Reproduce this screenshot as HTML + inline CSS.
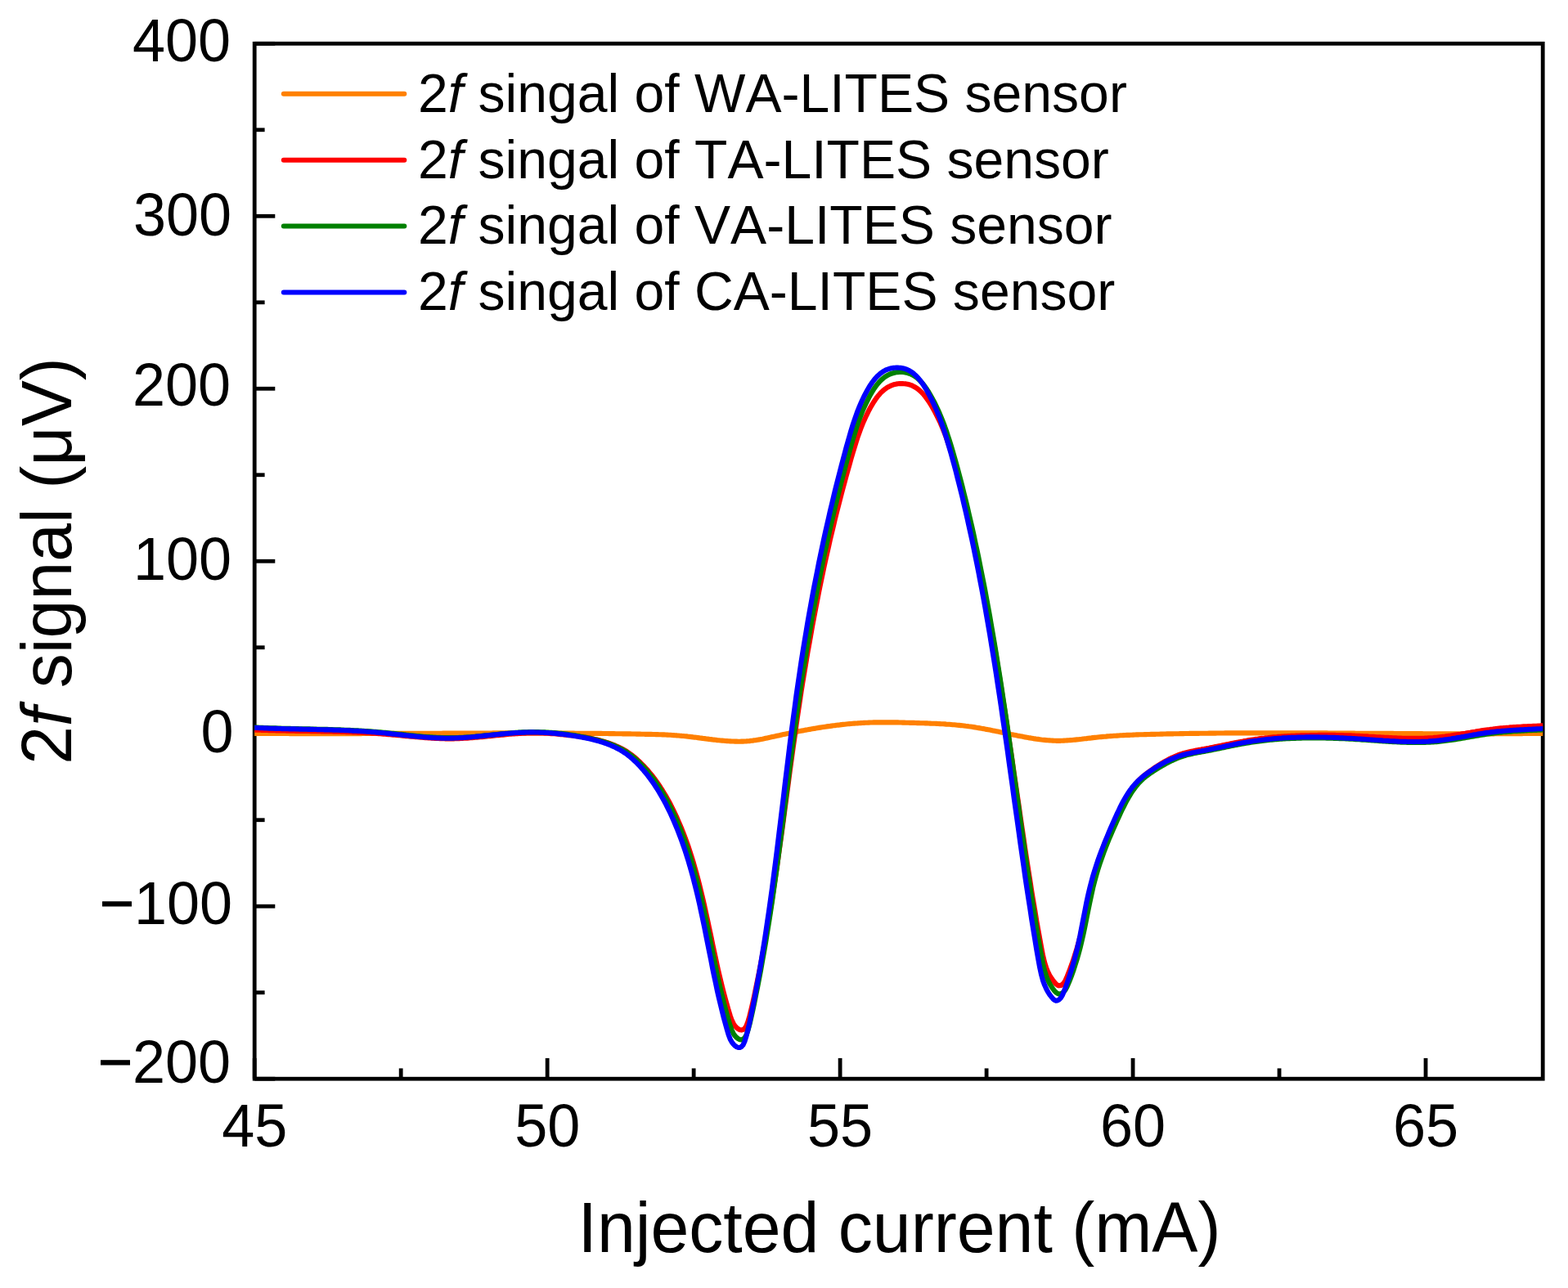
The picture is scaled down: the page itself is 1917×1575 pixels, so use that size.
<!DOCTYPE html>
<html lang="en"><head><meta charset="utf-8"><title>2f signal</title>
<style>html,body{margin:0;padding:0;background:#fff;overflow:hidden}svg{display:block}text{font-kerning:none;font-variant-ligatures:none}</style></head>
<body>
<svg width="1917" height="1575" viewBox="0 0 1917 1575">
<rect width="1917" height="1575" fill="#fff"/>
<defs><clipPath id="c"><rect x="311.2" y="53.3" width="1575.0" height="1265.9"/></clipPath></defs>
<g stroke="#000" stroke-width="4.8" fill="none">
<line x1="311.2" y1="1319.20" x2="336.30" y2="1319.20"/>
<line x1="311.2" y1="1213.71" x2="323.60" y2="1213.71"/>
<line x1="311.2" y1="1108.22" x2="336.30" y2="1108.22"/>
<line x1="311.2" y1="1002.73" x2="323.60" y2="1002.73"/>
<line x1="311.2" y1="897.23" x2="336.30" y2="897.23"/>
<line x1="311.2" y1="791.74" x2="323.60" y2="791.74"/>
<line x1="311.2" y1="686.25" x2="336.30" y2="686.25"/>
<line x1="311.2" y1="580.76" x2="323.60" y2="580.76"/>
<line x1="311.2" y1="475.27" x2="336.30" y2="475.27"/>
<line x1="311.2" y1="369.78" x2="323.60" y2="369.78"/>
<line x1="311.2" y1="264.28" x2="336.30" y2="264.28"/>
<line x1="311.2" y1="158.79" x2="323.60" y2="158.79"/>
<line x1="311.2" y1="53.30" x2="336.30" y2="53.30"/>
<line x1="311.20" y1="1319.2" x2="311.20" y2="1293.90"/>
<line x1="490.18" y1="1319.2" x2="490.18" y2="1306.40"/>
<line x1="669.15" y1="1319.2" x2="669.15" y2="1293.90"/>
<line x1="848.13" y1="1319.2" x2="848.13" y2="1306.40"/>
<line x1="1027.11" y1="1319.2" x2="1027.11" y2="1293.90"/>
<line x1="1206.09" y1="1319.2" x2="1206.09" y2="1306.40"/>
<line x1="1385.06" y1="1319.2" x2="1385.06" y2="1293.90"/>
<line x1="1564.04" y1="1319.2" x2="1564.04" y2="1306.40"/>
<line x1="1743.02" y1="1319.2" x2="1743.02" y2="1293.90"/>
<rect x="311.2" y="53.3" width="1575.00" height="1265.90" stroke-linejoin="miter"/>
</g>
<g clip-path="url(#c)" fill="none" stroke-linejoin="round" stroke-linecap="round">
<path d="M311.2,896.8 L313.2,896.8 L315.1,896.8 L317.1,896.8 L319.1,896.9 L321.1,896.9 L323.0,896.9 L325.0,896.9 L327.0,896.9 L328.9,896.9 L330.9,896.9 L332.9,897.0 L334.9,897.0 L336.8,897.0 L338.8,897.0 L340.8,897.0 L342.7,897.0 L344.7,897.0 L346.7,897.0 L348.7,897.0 L350.6,897.0 L352.6,897.0 L354.6,897.1 L356.5,897.1 L358.5,897.1 L360.5,897.1 L362.5,897.1 L364.4,897.1 L366.4,897.1 L368.4,897.1 L370.3,897.1 L372.3,897.1 L374.3,897.1 L376.3,897.1 L378.2,897.1 L380.2,897.1 L382.2,897.1 L384.1,897.1 L386.1,897.1 L388.1,897.1 L390.0,897.1 L392.0,897.1 L394.0,897.1 L396.0,897.1 L397.9,897.1 L399.9,897.1 L401.9,897.1 L403.8,897.1 L405.8,897.1 L407.8,897.1 L409.8,897.1 L411.7,897.1 L413.7,897.1 L415.7,897.1 L417.6,897.1 L419.6,897.1 L421.6,897.1 L423.6,897.1 L425.5,897.1 L427.5,897.1 L429.5,897.1 L431.4,897.1 L433.4,897.1 L435.4,897.1 L437.4,897.1 L439.3,897.1 L441.3,897.1 L443.3,897.0 L445.2,897.0 L447.2,897.0 L449.2,897.0 L451.2,897.0 L453.1,897.0 L455.1,897.0 L457.1,897.0 L459.0,897.0 L461.0,897.0 L463.0,897.0 L465.0,897.0 L466.9,897.0 L468.9,897.0 L470.9,897.0 L472.8,896.9 L474.8,896.9 L476.8,896.9 L478.8,896.9 L480.7,896.9 L482.7,896.9 L484.7,896.9 L486.6,896.9 L488.6,896.9 L490.6,896.9 L492.6,896.9 L494.5,896.9 L496.5,896.8 L498.5,896.8 L500.4,896.8 L502.4,896.8 L504.4,896.8 L506.4,896.8 L508.3,896.8 L510.3,896.8 L512.3,896.8 L514.2,896.8 L516.2,896.8 L518.2,896.7 L520.1,896.7 L522.1,896.7 L524.1,896.7 L526.1,896.7 L528.0,896.7 L530.0,896.7 L532.0,896.7 L533.9,896.7 L535.9,896.7 L537.9,896.7 L539.9,896.7 L541.8,896.6 L543.8,896.6 L545.8,896.6 L547.7,896.6 L549.7,896.6 L551.7,896.6 L553.7,896.6 L555.6,896.6 L557.6,896.6 L559.6,896.6 L561.5,896.6 L563.5,896.6 L565.5,896.6 L567.5,896.5 L569.4,896.5 L571.4,896.5 L573.4,896.5 L575.3,896.5 L577.3,896.5 L579.3,896.5 L581.3,896.5 L583.2,896.5 L585.2,896.5 L587.2,896.5 L589.1,896.5 L591.1,896.5 L593.1,896.5 L595.1,896.5 L597.0,896.5 L599.0,896.5 L601.0,896.5 L602.9,896.4 L604.9,896.4 L606.9,896.4 L608.9,896.4 L610.8,896.4 L612.8,896.4 L614.8,896.4 L616.7,896.4 L618.7,896.4 L620.7,896.4 L622.7,896.4 L624.6,896.4 L626.6,896.4 L628.6,896.4 L630.5,896.4 L632.5,896.4 L634.5,896.4 L636.5,896.4 L638.4,896.4 L640.4,896.4 L642.4,896.4 L644.3,896.4 L646.3,896.4 L648.3,896.4 L650.2,896.4 L652.2,896.4 L654.2,896.4 L656.2,896.4 L658.1,896.4 L660.1,896.5 L662.1,896.5 L664.0,896.5 L666.0,896.5 L668.0,896.5 L670.0,896.5 L671.9,896.5 L673.9,896.5 L675.9,896.5 L677.8,896.5 L679.8,896.5 L681.8,896.5 L683.8,896.5 L685.7,896.5 L687.7,896.6 L689.7,896.6 L691.6,896.6 L693.6,896.6 L695.6,896.6 L697.6,896.6 L699.5,896.6 L701.5,896.6 L703.5,896.7 L705.4,896.7 L707.4,896.7 L709.4,896.7 L711.4,896.7 L713.3,896.7 L715.3,896.7 L717.3,896.8 L719.2,896.8 L721.2,896.8 L723.2,896.8 L725.2,896.8 L727.1,896.9 L729.1,896.9 L731.1,896.9 L733.0,896.9 L735.0,896.9 L737.0,897.0 L739.0,897.0 L740.9,897.0 L742.9,897.0 L744.9,897.1 L746.8,897.1 L748.8,897.1 L750.8,897.1 L752.8,897.2 L754.7,897.2 L756.7,897.2 L758.7,897.2 L760.6,897.3 L762.6,897.3 L764.6,897.3 L766.6,897.4 L768.5,897.4 L770.5,897.4 L772.5,897.5 L774.4,897.5 L776.4,897.5 L778.4,897.6 L780.3,897.6 L782.3,897.6 L784.3,897.7 L786.3,897.7 L788.2,897.8 L790.2,897.8 L792.2,897.8 L794.1,897.9 L796.1,897.9 L798.1,898.0 L800.1,898.0 L802.0,898.1 L804.0,898.1 L806.0,898.2 L807.9,898.3 L809.9,898.4 L811.9,898.4 L813.9,898.5 L815.8,898.6 L817.8,898.7 L819.8,898.8 L821.7,899.0 L823.7,899.1 L825.7,899.2 L827.7,899.4 L829.6,899.5 L831.6,899.7 L833.6,899.9 L835.5,900.0 L837.5,900.2 L839.5,900.4 L841.5,900.7 L843.4,900.9 L845.4,901.1 L847.4,901.4 L849.3,901.6 L851.3,901.8 L853.3,902.1 L855.3,902.4 L857.2,902.6 L859.2,902.9 L861.2,903.1 L863.1,903.4 L865.1,903.6 L867.1,903.9 L869.1,904.1 L871.0,904.4 L873.0,904.6 L875.0,904.8 L876.9,905.1 L878.9,905.3 L880.9,905.5 L882.9,905.6 L884.8,905.8 L886.8,906.0 L888.8,906.1 L890.7,906.3 L892.7,906.4 L894.7,906.5 L896.7,906.5 L898.6,906.6 L900.6,906.6 L902.6,906.7 L904.5,906.7 L906.5,906.6 L908.5,906.6 L910.4,906.5 L912.4,906.4 L914.4,906.2 L916.4,906.1 L918.3,905.8 L920.3,905.6 L922.3,905.3 L924.2,905.1 L926.2,904.7 L928.2,904.4 L930.2,904.0 L932.1,903.7 L934.1,903.3 L936.1,902.8 L938.0,902.4 L940.0,902.0 L942.0,901.6 L944.0,901.1 L945.9,900.7 L947.9,900.3 L949.9,899.8 L951.8,899.4 L953.8,899.0 L955.8,898.5 L957.8,898.1 L959.7,897.7 L961.7,897.3 L963.7,896.9 L965.6,896.5 L967.6,896.1 L969.6,895.7 L971.6,895.3 L973.5,894.9 L975.5,894.5 L977.5,894.1 L979.4,893.7 L981.4,893.4 L983.4,893.0 L985.4,892.6 L987.3,892.3 L989.3,891.9 L991.3,891.6 L993.2,891.2 L995.2,890.9 L997.2,890.6 L999.2,890.2 L1001.1,889.9 L1003.1,889.6 L1005.1,889.3 L1007.0,889.0 L1009.0,888.7 L1011.0,888.4 L1013.0,888.1 L1014.9,887.9 L1016.9,887.6 L1018.9,887.3 L1020.8,887.1 L1022.8,886.8 L1024.8,886.6 L1026.8,886.4 L1028.7,886.1 L1030.7,885.9 L1032.7,885.7 L1034.6,885.5 L1036.6,885.3 L1038.6,885.1 L1040.5,885.0 L1042.5,884.8 L1044.5,884.6 L1046.5,884.5 L1048.4,884.4 L1050.4,884.2 L1052.4,884.1 L1054.3,884.0 L1056.3,883.9 L1058.3,883.8 L1060.3,883.7 L1062.2,883.6 L1064.2,883.5 L1066.2,883.5 L1068.1,883.4 L1070.1,883.4 L1072.1,883.3 L1074.1,883.3 L1076.0,883.3 L1078.0,883.3 L1080.0,883.3 L1081.9,883.3 L1083.9,883.3 L1085.9,883.3 L1087.9,883.3 L1089.8,883.3 L1091.8,883.3 L1093.8,883.4 L1095.7,883.4 L1097.7,883.4 L1099.7,883.5 L1101.7,883.5 L1103.6,883.6 L1105.6,883.6 L1107.6,883.7 L1109.5,883.7 L1111.5,883.8 L1113.5,883.8 L1115.5,883.9 L1117.4,883.9 L1119.4,884.0 L1121.4,884.1 L1123.3,884.1 L1125.3,884.2 L1127.3,884.2 L1129.3,884.3 L1131.2,884.4 L1133.2,884.4 L1135.2,884.5 L1137.1,884.6 L1139.1,884.7 L1141.1,884.7 L1143.1,884.8 L1145.0,884.9 L1147.0,885.0 L1149.0,885.1 L1150.9,885.2 L1152.9,885.3 L1154.9,885.4 L1156.9,885.6 L1158.8,885.7 L1160.8,885.8 L1162.8,886.0 L1164.7,886.2 L1166.7,886.3 L1168.7,886.5 L1170.6,886.7 L1172.6,886.9 L1174.6,887.1 L1176.6,887.3 L1178.5,887.5 L1180.5,887.8 L1182.5,888.0 L1184.4,888.3 L1186.4,888.5 L1188.4,888.8 L1190.4,889.1 L1192.3,889.4 L1194.3,889.8 L1196.3,890.1 L1198.2,890.4 L1200.2,890.8 L1202.2,891.1 L1204.2,891.5 L1206.1,891.9 L1208.1,892.2 L1210.1,892.6 L1212.0,893.0 L1214.0,893.4 L1216.0,893.8 L1218.0,894.2 L1219.9,894.6 L1221.9,895.0 L1223.9,895.4 L1225.8,895.8 L1227.8,896.2 L1229.8,896.6 L1231.8,897.0 L1233.7,897.4 L1235.7,897.9 L1237.7,898.3 L1239.6,898.7 L1241.6,899.1 L1243.6,899.5 L1245.6,899.9 L1247.5,900.2 L1249.5,900.6 L1251.5,901.0 L1253.4,901.4 L1255.4,901.7 L1257.4,902.1 L1259.4,902.4 L1261.3,902.7 L1263.3,903.1 L1265.3,903.4 L1267.2,903.7 L1269.2,903.9 L1271.2,904.2 L1273.2,904.5 L1275.1,904.7 L1277.1,904.9 L1279.1,905.1 L1281.0,905.3 L1283.0,905.4 L1285.0,905.5 L1287.0,905.6 L1288.9,905.7 L1290.9,905.8 L1292.9,905.8 L1294.8,905.8 L1296.8,905.8 L1298.8,905.7 L1300.7,905.6 L1302.7,905.5 L1304.7,905.4 L1306.7,905.3 L1308.6,905.1 L1310.6,905.0 L1312.6,904.8 L1314.5,904.6 L1316.5,904.4 L1318.5,904.2 L1320.5,904.0 L1322.4,903.8 L1324.4,903.5 L1326.4,903.3 L1328.3,903.1 L1330.3,902.8 L1332.3,902.6 L1334.3,902.4 L1336.2,902.1 L1338.2,901.9 L1340.2,901.7 L1342.1,901.5 L1344.1,901.3 L1346.1,901.1 L1348.1,900.9 L1350.0,900.7 L1352.0,900.6 L1354.0,900.4 L1355.9,900.3 L1357.9,900.1 L1359.9,900.0 L1361.9,899.8 L1363.8,899.7 L1365.8,899.6 L1367.8,899.5 L1369.7,899.3 L1371.7,899.2 L1373.7,899.1 L1375.7,899.0 L1377.6,898.9 L1379.6,898.8 L1381.6,898.8 L1383.5,898.7 L1385.5,898.6 L1387.5,898.5 L1389.5,898.4 L1391.4,898.4 L1393.4,898.3 L1395.4,898.2 L1397.3,898.2 L1399.3,898.1 L1401.3,898.1 L1403.3,898.0 L1405.2,898.0 L1407.2,897.9 L1409.2,897.9 L1411.1,897.8 L1413.1,897.8 L1415.1,897.7 L1417.1,897.7 L1419.0,897.6 L1421.0,897.6 L1423.0,897.5 L1424.9,897.5 L1426.9,897.4 L1428.9,897.4 L1430.8,897.4 L1432.8,897.3 L1434.8,897.3 L1436.8,897.2 L1438.7,897.2 L1440.7,897.2 L1442.7,897.1 L1444.6,897.1 L1446.6,897.1 L1448.6,897.0 L1450.6,897.0 L1452.5,897.0 L1454.5,896.9 L1456.5,896.9 L1458.4,896.9 L1460.4,896.9 L1462.4,896.8 L1464.4,896.8 L1466.3,896.8 L1468.3,896.7 L1470.3,896.7 L1472.2,896.7 L1474.2,896.7 L1476.2,896.7 L1478.2,896.6 L1480.1,896.6 L1482.1,896.6 L1484.1,896.6 L1486.0,896.6 L1488.0,896.5 L1490.0,896.5 L1492.0,896.5 L1493.9,896.5 L1495.9,896.5 L1497.9,896.4 L1499.8,896.4 L1501.8,896.4 L1503.8,896.4 L1505.8,896.4 L1507.7,896.4 L1509.7,896.4 L1511.7,896.4 L1513.6,896.3 L1515.6,896.3 L1517.6,896.3 L1519.6,896.3 L1521.5,896.3 L1523.5,896.3 L1525.5,896.3 L1527.4,896.3 L1529.4,896.3 L1531.4,896.3 L1533.4,896.3 L1535.3,896.3 L1537.3,896.3 L1539.3,896.3 L1541.2,896.3 L1543.2,896.3 L1545.2,896.2 L1547.2,896.2 L1549.1,896.2 L1551.1,896.2 L1553.1,896.2 L1555.0,896.2 L1557.0,896.2 L1559.0,896.2 L1560.9,896.2 L1562.9,896.2 L1564.9,896.2 L1566.9,896.2 L1568.8,896.3 L1570.8,896.3 L1572.8,896.3 L1574.7,896.3 L1576.7,896.3 L1578.7,896.3 L1580.7,896.3 L1582.6,896.3 L1584.6,896.3 L1586.6,896.3 L1588.5,896.3 L1590.5,896.3 L1592.5,896.3 L1594.5,896.3 L1596.4,896.3 L1598.4,896.3 L1600.4,896.3 L1602.3,896.3 L1604.3,896.4 L1606.3,896.4 L1608.3,896.4 L1610.2,896.4 L1612.2,896.4 L1614.2,896.4 L1616.1,896.4 L1618.1,896.4 L1620.1,896.4 L1622.1,896.4 L1624.0,896.5 L1626.0,896.5 L1628.0,896.5 L1629.9,896.5 L1631.9,896.5 L1633.9,896.5 L1635.9,896.5 L1637.8,896.5 L1639.8,896.5 L1641.8,896.6 L1643.7,896.6 L1645.7,896.6 L1647.7,896.6 L1649.7,896.6 L1651.6,896.6 L1653.6,896.6 L1655.6,896.6 L1657.5,896.7 L1659.5,896.7 L1661.5,896.7 L1663.5,896.7 L1665.4,896.7 L1667.4,896.7 L1669.4,896.7 L1671.3,896.7 L1673.3,896.8 L1675.3,896.8 L1677.3,896.8 L1679.2,896.8 L1681.2,896.8 L1683.2,896.8 L1685.1,896.8 L1687.1,896.8 L1689.1,896.9 L1691.0,896.9 L1693.0,896.9 L1695.0,896.9 L1697.0,896.9 L1698.9,896.9 L1700.9,896.9 L1702.9,896.9 L1704.8,897.0 L1706.8,897.0 L1708.8,897.0 L1710.8,897.0 L1712.7,897.0 L1714.7,897.0 L1716.7,897.0 L1718.6,897.0 L1720.6,897.1 L1722.6,897.1 L1724.6,897.1 L1726.5,897.1 L1728.5,897.1 L1730.5,897.1 L1732.4,897.1 L1734.4,897.1 L1736.4,897.1 L1738.4,897.1 L1740.3,897.2 L1742.3,897.2 L1744.3,897.2 L1746.2,897.2 L1748.2,897.2 L1750.2,897.2 L1752.2,897.2 L1754.1,897.2 L1756.1,897.2 L1758.1,897.2 L1760.0,897.2 L1762.0,897.2 L1764.0,897.2 L1766.0,897.3 L1767.9,897.3 L1769.9,897.3 L1771.9,897.3 L1773.8,897.3 L1775.8,897.3 L1777.8,897.3 L1779.8,897.3 L1781.7,897.3 L1783.7,897.3 L1785.7,897.3 L1787.6,897.3 L1789.6,897.3 L1791.6,897.3 L1793.6,897.3 L1795.5,897.3 L1797.5,897.3 L1799.5,897.3 L1801.4,897.3 L1803.4,897.3 L1805.4,897.3 L1807.4,897.3 L1809.3,897.3 L1811.3,897.3 L1813.3,897.3 L1815.2,897.3 L1817.2,897.3 L1819.2,897.3 L1821.1,897.3 L1823.1,897.3 L1825.1,897.3 L1827.1,897.3 L1829.0,897.2 L1831.0,897.2 L1833.0,897.2 L1834.9,897.2 L1836.9,897.2 L1838.9,897.2 L1840.9,897.2 L1842.8,897.2 L1844.8,897.2 L1846.8,897.2 L1848.7,897.1 L1850.7,897.1 L1852.7,897.1 L1854.7,897.1 L1856.6,897.1 L1858.6,897.1 L1860.6,897.1 L1862.5,897.0 L1864.5,897.0 L1866.5,897.0 L1868.5,897.0 L1870.4,897.0 L1872.4,896.9 L1874.4,896.9 L1876.3,896.9 L1878.3,896.9 L1880.3,896.9 L1882.3,896.8 L1884.2,896.8 L1886.2,896.8" stroke="#ff8000" stroke-width="6.15"/>
<path d="M311.2,892.6 L313.2,892.6 L315.1,892.6 L317.1,892.7 L319.1,892.8 L321.1,892.8 L323.0,892.9 L325.0,893.0 L327.0,893.0 L328.9,893.1 L330.9,893.1 L332.9,893.2 L334.9,893.2 L336.8,893.3 L338.8,893.3 L340.8,893.4 L342.7,893.4 L344.7,893.5 L346.7,893.5 L348.7,893.5 L350.6,893.6 L352.6,893.6 L354.6,893.7 L356.5,893.7 L358.5,893.7 L360.5,893.8 L362.5,893.8 L364.4,893.8 L366.4,893.9 L368.4,893.9 L370.3,893.9 L372.3,893.9 L374.3,894.0 L376.3,894.0 L378.2,894.0 L380.2,894.1 L382.2,894.1 L384.1,894.1 L386.1,894.2 L388.1,894.2 L390.0,894.2 L392.0,894.3 L394.0,894.3 L396.0,894.3 L397.9,894.4 L399.9,894.4 L401.9,894.5 L403.8,894.5 L405.8,894.5 L407.8,894.6 L409.8,894.6 L411.7,894.7 L413.7,894.7 L415.7,894.8 L417.6,894.9 L419.6,894.9 L421.6,895.0 L423.6,895.1 L425.5,895.1 L427.5,895.2 L429.5,895.3 L431.4,895.4 L433.4,895.4 L435.4,895.5 L437.4,895.6 L439.3,895.7 L441.3,895.8 L443.3,895.9 L445.2,896.0 L447.2,896.1 L449.2,896.2 L451.2,896.3 L453.1,896.4 L455.1,896.6 L457.1,896.7 L459.0,896.8 L461.0,897.0 L463.0,897.1 L465.0,897.2 L466.9,897.4 L468.9,897.6 L470.9,897.7 L472.8,897.9 L474.8,898.1 L476.8,898.2 L478.8,898.4 L480.7,898.6 L482.7,898.8 L484.7,899.0 L486.6,899.1 L488.6,899.3 L490.6,899.5 L492.6,899.7 L494.5,899.9 L496.5,900.1 L498.5,900.3 L500.4,900.4 L502.4,900.6 L504.4,900.8 L506.4,901.0 L508.3,901.2 L510.3,901.3 L512.3,901.5 L514.2,901.6 L516.2,901.8 L518.2,901.9 L520.1,902.1 L522.1,902.2 L524.1,902.4 L526.1,902.5 L528.0,902.6 L530.0,902.7 L532.0,902.9 L533.9,903.0 L535.9,903.0 L537.9,903.1 L539.9,903.2 L541.8,903.2 L543.8,903.3 L545.8,903.3 L547.7,903.3 L549.7,903.3 L551.7,903.3 L553.7,903.3 L555.6,903.3 L557.6,903.2 L559.6,903.2 L561.5,903.1 L563.5,903.0 L565.5,902.9 L567.5,902.8 L569.4,902.7 L571.4,902.6 L573.4,902.4 L575.3,902.3 L577.3,902.1 L579.3,902.0 L581.3,901.8 L583.2,901.6 L585.2,901.5 L587.2,901.3 L589.1,901.1 L591.1,900.9 L593.1,900.7 L595.1,900.5 L597.0,900.3 L599.0,900.1 L601.0,899.9 L602.9,899.7 L604.9,899.5 L606.9,899.3 L608.9,899.1 L610.8,898.9 L612.8,898.7 L614.8,898.6 L616.7,898.4 L618.7,898.2 L620.7,898.0 L622.7,897.8 L624.6,897.7 L626.6,897.5 L628.6,897.4 L630.5,897.2 L632.5,897.1 L634.5,897.0 L636.5,896.9 L638.4,896.7 L640.4,896.7 L642.4,896.6 L644.3,896.5 L646.3,896.4 L648.3,896.4 L650.2,896.4 L652.2,896.4 L654.2,896.4 L656.2,896.4 L658.1,896.4 L660.1,896.4 L662.1,896.5 L664.0,896.5 L666.0,896.6 L668.0,896.7 L670.0,896.8 L671.9,896.9 L673.9,897.1 L675.9,897.2 L677.8,897.3 L679.8,897.5 L681.8,897.7 L683.8,897.9 L685.7,898.1 L687.7,898.3 L689.7,898.5 L691.6,898.7 L693.6,898.9 L695.6,899.1 L697.6,899.3 L699.5,899.5 L701.5,899.7 L703.5,899.9 L705.4,900.2 L707.4,900.5 L709.4,900.7 L711.4,901.0 L713.3,901.3 L715.3,901.6 L717.3,901.9 L719.2,902.2 L721.2,902.6 L723.2,903.0 L725.2,903.4 L727.1,903.9 L729.1,904.3 L731.1,904.8 L733.0,905.3 L735.0,905.9 L737.0,906.4 L739.0,907.0 L740.9,907.6 L742.9,908.2 L744.9,908.9 L746.8,909.6 L748.8,910.4 L750.8,911.1 L752.8,912.0 L754.7,912.8 L756.7,913.7 L758.7,914.7 L760.6,915.7 L762.6,916.8 L764.6,918.0 L766.6,919.2 L768.5,920.5 L770.5,921.9 L772.5,923.3 L774.4,924.9 L776.4,926.5 L778.4,928.2 L780.3,930.0 L782.3,931.8 L784.3,933.8 L786.3,935.8 L788.2,937.9 L790.2,940.0 L792.2,942.3 L794.1,944.6 L796.1,947.0 L798.1,949.5 L800.1,952.1 L802.0,954.8 L804.0,957.6 L806.0,960.5 L807.9,963.5 L809.9,966.5 L811.9,969.8 L813.9,973.1 L815.8,976.5 L817.8,980.1 L819.8,983.8 L821.7,987.7 L823.7,991.7 L825.7,995.8 L827.7,1000.1 L829.6,1004.6 L831.6,1009.2 L833.6,1014.0 L835.5,1018.9 L837.5,1024.1 L839.5,1029.5 L841.5,1035.1 L843.4,1041.0 L845.4,1047.2 L847.4,1053.6 L849.3,1060.3 L851.3,1067.3 L853.3,1074.7 L855.3,1082.4 L857.2,1090.4 L859.2,1098.7 L861.2,1107.4 L863.1,1116.3 L865.1,1125.5 L867.1,1134.8 L869.1,1144.2 L871.0,1153.6 L873.0,1163.0 L875.0,1172.2 L876.9,1181.2 L878.9,1189.9 L880.9,1198.3 L882.9,1206.4 L884.8,1214.1 L886.8,1221.6 L888.8,1228.7 L890.7,1235.5 L892.7,1242.0 L894.7,1247.7 L896.7,1251.7 L898.6,1254.6 L900.6,1256.7 L902.6,1258.2 L904.5,1259.2 L906.5,1259.6 L908.5,1259.1 L910.4,1257.6 L912.4,1254.6 L914.4,1249.4 L916.4,1242.5 L918.3,1234.8 L920.3,1226.2 L922.3,1217.1 L924.2,1207.8 L926.2,1198.2 L928.2,1188.3 L930.2,1178.0 L932.1,1167.9 L934.1,1157.3 L936.1,1146.5 L938.0,1135.3 L940.0,1123.7 L942.0,1111.7 L944.0,1099.3 L945.9,1086.5 L947.9,1073.4 L949.9,1059.9 L951.8,1046.0 L953.8,1031.9 L955.8,1017.5 L957.8,1002.8 L959.7,988.1 L961.7,973.2 L963.7,958.4 L965.6,943.7 L967.6,929.0 L969.6,914.6 L971.6,900.5 L973.5,886.5 L975.5,872.8 L977.5,859.5 L979.4,846.6 L981.4,834.0 L983.4,821.9 L985.4,810.1 L987.3,798.6 L989.3,787.5 L991.3,776.3 L993.2,765.3 L995.2,754.6 L997.2,744.1 L999.2,733.9 L1001.1,723.9 L1003.1,714.2 L1005.1,704.7 L1007.0,695.3 L1009.0,686.2 L1011.0,677.3 L1013.0,668.5 L1014.9,659.9 L1016.9,651.5 L1018.9,643.2 L1020.8,635.1 L1022.8,627.1 L1024.8,619.3 L1026.8,611.5 L1028.7,604.0 L1030.7,596.5 L1032.7,589.2 L1034.6,581.9 L1036.6,574.8 L1038.6,567.8 L1040.5,560.9 L1042.5,554.1 L1044.5,547.5 L1046.5,541.1 L1048.4,535.1 L1050.4,529.4 L1052.4,524.0 L1054.3,519.1 L1056.3,514.4 L1058.3,510.0 L1060.3,505.9 L1062.2,502.0 L1064.2,498.3 L1066.2,494.9 L1068.1,491.7 L1070.1,488.7 L1072.1,485.9 L1074.1,483.4 L1076.0,481.2 L1078.0,479.2 L1080.0,477.4 L1081.9,475.8 L1083.9,474.4 L1085.9,473.2 L1087.9,472.2 L1089.8,471.3 L1091.8,470.6 L1093.8,470.1 L1095.7,469.6 L1097.7,469.3 L1099.7,469.1 L1101.7,469.0 L1103.6,469.1 L1105.6,469.2 L1107.6,469.4 L1109.5,469.8 L1111.5,470.3 L1113.5,470.9 L1115.5,471.7 L1117.4,472.7 L1119.4,473.8 L1121.4,475.1 L1123.3,476.7 L1125.3,478.4 L1127.3,480.4 L1129.3,482.5 L1131.2,484.9 L1133.2,487.6 L1135.2,490.4 L1137.1,493.5 L1139.1,496.7 L1141.1,500.2 L1143.1,503.8 L1145.0,507.5 L1147.0,511.5 L1149.0,515.6 L1150.9,520.1 L1152.9,524.8 L1154.9,529.9 L1156.9,535.2 L1158.8,540.8 L1160.8,546.7 L1162.8,552.9 L1164.7,559.3 L1166.7,565.9 L1168.7,572.8 L1170.6,579.8 L1172.6,587.0 L1174.6,594.4 L1176.6,601.9 L1178.5,609.7 L1180.5,617.6 L1182.5,625.6 L1184.4,633.9 L1186.4,642.3 L1188.4,650.8 L1190.4,659.6 L1192.3,668.5 L1194.3,677.7 L1196.3,687.0 L1198.2,696.5 L1200.2,706.3 L1202.2,716.1 L1204.2,726.2 L1206.1,736.5 L1208.1,747.0 L1210.1,757.7 L1212.0,768.7 L1214.0,779.9 L1216.0,791.4 L1218.0,803.1 L1219.9,815.0 L1221.9,827.2 L1223.9,839.6 L1225.8,852.2 L1227.8,865.0 L1229.8,878.0 L1231.8,891.2 L1233.7,904.4 L1235.7,917.7 L1237.7,931.1 L1239.6,944.6 L1241.6,958.2 L1243.6,971.7 L1245.6,985.3 L1247.5,998.8 L1249.5,1012.3 L1251.5,1025.6 L1253.4,1038.9 L1255.4,1052.0 L1257.4,1064.9 L1259.4,1077.5 L1261.3,1089.9 L1263.3,1102.0 L1265.3,1113.8 L1267.2,1125.4 L1269.2,1136.8 L1271.2,1147.8 L1273.2,1158.7 L1275.1,1168.8 L1277.1,1177.0 L1279.1,1183.3 L1281.0,1188.2 L1283.0,1192.2 L1285.0,1195.6 L1287.0,1198.4 L1288.9,1200.9 L1290.9,1203.1 L1292.9,1204.7 L1294.8,1205.3 L1296.8,1205.0 L1298.8,1203.8 L1300.7,1201.8 L1302.7,1198.6 L1304.7,1194.0 L1306.7,1189.0 L1308.6,1183.8 L1310.6,1178.4 L1312.6,1172.6 L1314.5,1166.5 L1316.5,1160.1 L1318.5,1153.1 L1320.5,1145.5 L1322.4,1137.3 L1324.4,1128.4 L1326.4,1119.0 L1328.3,1109.3 L1330.3,1099.7 L1332.3,1090.6 L1334.3,1082.0 L1336.2,1074.1 L1338.2,1066.9 L1340.2,1060.3 L1342.1,1054.2 L1344.1,1048.4 L1346.1,1043.0 L1348.1,1037.7 L1350.0,1032.7 L1352.0,1027.9 L1354.0,1023.2 L1355.9,1018.6 L1357.9,1014.1 L1359.9,1009.7 L1361.9,1005.4 L1363.8,1001.2 L1365.8,997.0 L1367.8,992.8 L1369.7,988.7 L1371.7,984.8 L1373.7,980.9 L1375.7,977.3 L1377.6,973.8 L1379.6,970.6 L1381.6,967.5 L1383.5,964.7 L1385.5,962.0 L1387.5,959.5 L1389.5,957.2 L1391.4,955.1 L1393.4,953.1 L1395.4,951.3 L1397.3,949.5 L1399.3,947.9 L1401.3,946.3 L1403.3,944.8 L1405.2,943.3 L1407.2,941.9 L1409.2,940.5 L1411.1,939.2 L1413.1,937.9 L1415.1,936.6 L1417.1,935.3 L1419.0,934.1 L1421.0,932.9 L1423.0,931.8 L1424.9,930.7 L1426.9,929.6 L1428.9,928.5 L1430.8,927.5 L1432.8,926.6 L1434.8,925.7 L1436.8,924.8 L1438.7,924.0 L1440.7,923.2 L1442.7,922.5 L1444.6,921.9 L1446.6,921.3 L1448.6,920.7 L1450.6,920.2 L1452.5,919.7 L1454.5,919.2 L1456.5,918.8 L1458.4,918.4 L1460.4,918.0 L1462.4,917.6 L1464.4,917.2 L1466.3,916.8 L1468.3,916.5 L1470.3,916.1 L1472.2,915.8 L1474.2,915.4 L1476.2,915.0 L1478.2,914.7 L1480.1,914.3 L1482.1,913.9 L1484.1,913.5 L1486.0,913.1 L1488.0,912.7 L1490.0,912.3 L1492.0,911.9 L1493.9,911.5 L1495.9,911.1 L1497.9,910.7 L1499.8,910.3 L1501.8,909.9 L1503.8,909.5 L1505.8,909.1 L1507.7,908.7 L1509.7,908.3 L1511.7,907.9 L1513.6,907.6 L1515.6,907.2 L1517.6,906.8 L1519.6,906.5 L1521.5,906.1 L1523.5,905.8 L1525.5,905.4 L1527.4,905.1 L1529.4,904.8 L1531.4,904.5 L1533.4,904.2 L1535.3,903.9 L1537.3,903.7 L1539.3,903.4 L1541.2,903.1 L1543.2,902.9 L1545.2,902.7 L1547.2,902.4 L1549.1,902.2 L1551.1,902.0 L1553.1,901.8 L1555.0,901.6 L1557.0,901.4 L1559.0,901.2 L1560.9,901.1 L1562.9,900.9 L1564.9,900.7 L1566.9,900.6 L1568.8,900.5 L1570.8,900.3 L1572.8,900.2 L1574.7,900.1 L1576.7,900.0 L1578.7,899.9 L1580.7,899.8 L1582.6,899.7 L1584.6,899.6 L1586.6,899.5 L1588.5,899.5 L1590.5,899.4 L1592.5,899.3 L1594.5,899.3 L1596.4,899.3 L1598.4,899.2 L1600.4,899.2 L1602.3,899.1 L1604.3,899.1 L1606.3,899.0 L1608.3,899.0 L1610.2,899.0 L1612.2,898.9 L1614.2,898.9 L1616.1,898.9 L1618.1,898.9 L1620.1,898.9 L1622.1,898.9 L1624.0,898.9 L1626.0,898.9 L1628.0,898.9 L1629.9,898.9 L1631.9,898.9 L1633.9,899.0 L1635.9,899.0 L1637.8,899.0 L1639.8,899.1 L1641.8,899.1 L1643.7,899.2 L1645.7,899.2 L1647.7,899.3 L1649.7,899.3 L1651.6,899.4 L1653.6,899.5 L1655.6,899.6 L1657.5,899.7 L1659.5,899.8 L1661.5,899.9 L1663.5,900.0 L1665.4,900.1 L1667.4,900.2 L1669.4,900.3 L1671.3,900.4 L1673.3,900.6 L1675.3,900.7 L1677.3,900.8 L1679.2,900.9 L1681.2,901.0 L1683.2,901.2 L1685.1,901.3 L1687.1,901.4 L1689.1,901.5 L1691.0,901.6 L1693.0,901.7 L1695.0,901.8 L1697.0,901.9 L1698.9,902.0 L1700.9,902.1 L1702.9,902.2 L1704.8,902.3 L1706.8,902.4 L1708.8,902.5 L1710.8,902.6 L1712.7,902.6 L1714.7,902.7 L1716.7,902.7 L1718.6,902.8 L1720.6,902.8 L1722.6,902.9 L1724.6,902.9 L1726.5,902.9 L1728.5,902.9 L1730.5,902.9 L1732.4,902.9 L1734.4,902.8 L1736.4,902.8 L1738.4,902.8 L1740.3,902.7 L1742.3,902.6 L1744.3,902.5 L1746.2,902.4 L1748.2,902.3 L1750.2,902.2 L1752.2,902.1 L1754.1,901.9 L1756.1,901.7 L1758.1,901.5 L1760.0,901.3 L1762.0,901.1 L1764.0,900.9 L1766.0,900.7 L1767.9,900.4 L1769.9,900.1 L1771.9,899.8 L1773.8,899.6 L1775.8,899.2 L1777.8,898.9 L1779.8,898.6 L1781.7,898.3 L1783.7,898.0 L1785.7,897.7 L1787.6,897.3 L1789.6,897.0 L1791.6,896.7 L1793.6,896.3 L1795.5,896.0 L1797.5,895.7 L1799.5,895.3 L1801.4,895.0 L1803.4,894.7 L1805.4,894.3 L1807.4,894.0 L1809.3,893.7 L1811.3,893.4 L1813.3,893.1 L1815.2,892.8 L1817.2,892.5 L1819.2,892.2 L1821.1,892.0 L1823.1,891.7 L1825.1,891.5 L1827.1,891.2 L1829.0,891.0 L1831.0,890.8 L1833.0,890.6 L1834.9,890.4 L1836.9,890.2 L1838.9,890.0 L1840.9,889.9 L1842.8,889.7 L1844.8,889.6 L1846.8,889.4 L1848.7,889.3 L1850.7,889.1 L1852.7,889.0 L1854.7,888.9 L1856.6,888.8 L1858.6,888.7 L1860.6,888.5 L1862.5,888.4 L1864.5,888.3 L1866.5,888.2 L1868.5,888.1 L1870.4,888.0 L1872.4,888.0 L1874.4,887.9 L1876.3,887.8 L1878.3,887.7 L1880.3,887.6 L1882.3,887.5 L1884.2,887.4 L1886.2,887.3" stroke="#ff0000" stroke-width="6.15"/>
<path d="M311.2,889.5 L313.2,889.5 L315.1,889.6 L317.1,889.7 L319.1,889.8 L321.1,889.9 L323.0,890.0 L325.0,890.0 L327.0,890.1 L328.9,890.2 L330.9,890.2 L332.9,890.3 L334.9,890.4 L336.8,890.4 L338.8,890.5 L340.8,890.6 L342.7,890.6 L344.7,890.7 L346.7,890.7 L348.7,890.8 L350.6,890.8 L352.6,890.9 L354.6,890.9 L356.5,891.0 L358.5,891.0 L360.5,891.0 L362.5,891.1 L364.4,891.1 L366.4,891.2 L368.4,891.2 L370.3,891.3 L372.3,891.3 L374.3,891.3 L376.3,891.4 L378.2,891.4 L380.2,891.5 L382.2,891.5 L384.1,891.6 L386.1,891.6 L388.1,891.7 L390.0,891.7 L392.0,891.7 L394.0,891.8 L396.0,891.8 L397.9,891.9 L399.9,891.9 L401.9,892.0 L403.8,892.1 L405.8,892.1 L407.8,892.2 L409.8,892.2 L411.7,892.3 L413.7,892.4 L415.7,892.4 L417.6,892.5 L419.6,892.6 L421.6,892.7 L423.6,892.7 L425.5,892.8 L427.5,892.9 L429.5,893.0 L431.4,893.1 L433.4,893.2 L435.4,893.3 L437.4,893.4 L439.3,893.5 L441.3,893.6 L443.3,893.7 L445.2,893.9 L447.2,894.0 L449.2,894.1 L451.2,894.3 L453.1,894.4 L455.1,894.5 L457.1,894.7 L459.0,894.8 L461.0,895.0 L463.0,895.2 L465.0,895.3 L466.9,895.5 L468.9,895.7 L470.9,895.9 L472.8,896.1 L474.8,896.3 L476.8,896.5 L478.8,896.7 L480.7,896.9 L482.7,897.1 L484.7,897.3 L486.6,897.5 L488.6,897.7 L490.6,897.9 L492.6,898.1 L494.5,898.3 L496.5,898.6 L498.5,898.8 L500.4,899.0 L502.4,899.2 L504.4,899.4 L506.4,899.6 L508.3,899.8 L510.3,900.0 L512.3,900.1 L514.2,900.3 L516.2,900.5 L518.2,900.7 L520.1,900.8 L522.1,901.0 L524.1,901.1 L526.1,901.3 L528.0,901.4 L530.0,901.5 L532.0,901.6 L533.9,901.7 L535.9,901.8 L537.9,901.9 L539.9,902.0 L541.8,902.0 L543.8,902.1 L545.8,902.1 L547.7,902.1 L549.7,902.1 L551.7,902.1 L553.7,902.1 L555.6,902.1 L557.6,902.0 L559.6,902.0 L561.5,901.9 L563.5,901.8 L565.5,901.7 L567.5,901.6 L569.4,901.5 L571.4,901.3 L573.4,901.2 L575.3,901.1 L577.3,900.9 L579.3,900.7 L581.3,900.6 L583.2,900.4 L585.2,900.2 L587.2,900.0 L589.1,899.8 L591.1,899.6 L593.1,899.4 L595.1,899.2 L597.0,899.0 L599.0,898.8 L601.0,898.6 L602.9,898.4 L604.9,898.2 L606.9,898.0 L608.9,897.8 L610.8,897.6 L612.8,897.4 L614.8,897.2 L616.7,897.1 L618.7,896.9 L620.7,896.7 L622.7,896.5 L624.6,896.4 L626.6,896.2 L628.6,896.0 L630.5,895.9 L632.5,895.8 L634.5,895.6 L636.5,895.5 L638.4,895.4 L640.4,895.3 L642.4,895.3 L644.3,895.2 L646.3,895.1 L648.3,895.1 L650.2,895.1 L652.2,895.1 L654.2,895.1 L656.2,895.1 L658.1,895.1 L660.1,895.2 L662.1,895.2 L664.0,895.3 L666.0,895.4 L668.0,895.5 L670.0,895.6 L671.9,895.7 L673.9,895.8 L675.9,896.0 L677.8,896.1 L679.8,896.3 L681.8,896.5 L683.8,896.7 L685.7,896.9 L687.7,897.1 L689.7,897.3 L691.6,897.6 L693.6,897.9 L695.6,898.2 L697.6,898.5 L699.5,898.8 L701.5,899.1 L703.5,899.4 L705.4,899.7 L707.4,900.1 L709.4,900.5 L711.4,900.8 L713.3,901.2 L715.3,901.6 L717.3,902.0 L719.2,902.4 L721.2,902.8 L723.2,903.3 L725.2,903.7 L727.1,904.2 L729.1,904.7 L731.1,905.2 L733.0,905.7 L735.0,906.2 L737.0,906.8 L739.0,907.4 L740.9,908.0 L742.9,908.7 L744.9,909.4 L746.8,910.1 L748.8,910.9 L750.8,911.7 L752.8,912.6 L754.7,913.5 L756.7,914.4 L758.7,915.4 L760.6,916.5 L762.6,917.6 L764.6,918.8 L766.6,920.1 L768.5,921.5 L770.5,922.9 L772.5,924.4 L774.4,926.0 L776.4,927.7 L778.4,929.5 L780.3,931.3 L782.3,933.3 L784.3,935.3 L786.3,937.4 L788.2,939.6 L790.2,941.8 L792.2,944.1 L794.1,946.6 L796.1,949.1 L798.1,951.7 L800.1,954.3 L802.0,957.1 L804.0,960.0 L806.0,963.0 L807.9,966.1 L809.9,969.3 L811.9,972.7 L813.9,976.1 L815.8,979.7 L817.8,983.4 L819.8,987.3 L821.7,991.3 L823.7,995.4 L825.7,999.7 L827.7,1004.2 L829.6,1008.8 L831.6,1013.6 L833.6,1018.6 L835.5,1023.7 L837.5,1029.1 L839.5,1034.7 L841.5,1040.6 L843.4,1046.7 L845.4,1053.1 L847.4,1059.7 L849.3,1066.7 L851.3,1074.0 L853.3,1081.7 L855.3,1089.7 L857.2,1098.0 L859.2,1106.7 L861.2,1115.7 L863.1,1124.9 L865.1,1134.4 L867.1,1144.1 L869.1,1153.8 L871.0,1163.5 L873.0,1173.2 L875.0,1182.6 L876.9,1191.9 L878.9,1200.8 L880.9,1209.5 L882.9,1217.8 L884.8,1225.7 L886.8,1233.4 L888.8,1240.7 L890.7,1247.7 L892.7,1254.3 L894.7,1259.9 L896.7,1263.9 L898.6,1266.7 L900.6,1268.8 L902.6,1270.3 L904.5,1271.2 L906.5,1271.4 L908.5,1270.8 L910.4,1269.1 L912.4,1265.7 L914.4,1259.9 L916.4,1252.7 L918.3,1244.5 L920.3,1235.6 L922.3,1226.2 L924.2,1216.5 L926.2,1206.6 L928.2,1196.2 L930.2,1185.6 L932.1,1174.8 L934.1,1163.7 L936.1,1152.2 L938.0,1140.3 L940.0,1128.0 L942.0,1115.2 L944.0,1102.1 L945.9,1088.5 L947.9,1074.6 L949.9,1060.2 L951.8,1045.5 L953.8,1030.5 L955.8,1015.3 L957.8,999.8 L959.7,984.2 L961.7,968.6 L963.7,953.0 L965.6,937.5 L967.6,922.2 L969.6,907.2 L971.6,892.4 L973.5,877.9 L975.5,863.7 L977.5,849.9 L979.4,836.6 L981.4,823.6 L983.4,811.1 L985.4,798.9 L987.3,787.1 L989.3,775.6 L991.3,764.2 L993.2,753.1 L995.2,742.2 L997.2,731.6 L999.2,721.2 L1001.1,711.1 L1003.1,701.2 L1005.1,691.5 L1007.0,682.0 L1009.0,672.7 L1011.0,663.6 L1013.0,654.7 L1014.9,645.9 L1016.9,637.3 L1018.9,628.9 L1020.8,620.6 L1022.8,612.4 L1024.8,604.4 L1026.8,596.6 L1028.7,588.8 L1030.7,581.2 L1032.7,573.7 L1034.6,566.3 L1036.6,559.0 L1038.6,551.9 L1040.5,544.8 L1042.5,537.9 L1044.5,531.3 L1046.5,524.9 L1048.4,518.9 L1050.4,513.3 L1052.4,508.1 L1054.3,503.1 L1056.3,498.5 L1058.3,494.2 L1060.3,490.1 L1062.2,486.3 L1064.2,482.6 L1066.2,479.2 L1068.1,476.1 L1070.1,473.2 L1072.1,470.5 L1074.1,468.1 L1076.0,466.0 L1078.0,464.1 L1080.0,462.4 L1081.9,460.9 L1083.9,459.6 L1085.9,458.5 L1087.9,457.5 L1089.8,456.8 L1091.8,456.2 L1093.8,455.7 L1095.7,455.3 L1097.7,455.1 L1099.7,455.0 L1101.7,454.9 L1103.6,455.0 L1105.6,455.3 L1107.6,455.6 L1109.5,456.1 L1111.5,456.7 L1113.5,457.4 L1115.5,458.4 L1117.4,459.5 L1119.4,460.8 L1121.4,462.3 L1123.3,464.1 L1125.3,466.0 L1127.3,468.2 L1129.3,470.6 L1131.2,473.3 L1133.2,476.1 L1135.2,479.2 L1137.1,482.6 L1139.1,486.1 L1141.1,489.7 L1143.1,493.5 L1145.0,497.6 L1147.0,501.8 L1149.0,506.3 L1150.9,511.0 L1152.9,516.0 L1154.9,521.2 L1156.9,526.8 L1158.8,532.6 L1160.8,538.7 L1162.8,545.1 L1164.7,551.7 L1166.7,558.5 L1168.7,565.5 L1170.6,572.6 L1172.6,580.0 L1174.6,587.5 L1176.6,595.2 L1178.5,603.1 L1180.5,611.1 L1182.5,619.3 L1184.4,627.6 L1186.4,636.2 L1188.4,644.8 L1190.4,653.7 L1192.3,662.8 L1194.3,672.0 L1196.3,681.5 L1198.2,691.1 L1200.2,701.0 L1202.2,711.0 L1204.2,721.3 L1206.1,731.9 L1208.1,742.6 L1210.1,753.6 L1212.0,764.8 L1214.0,776.3 L1216.0,788.0 L1218.0,799.9 L1219.9,812.1 L1221.9,824.5 L1223.9,837.2 L1225.8,850.0 L1227.8,863.1 L1229.8,876.4 L1231.8,890.1 L1233.7,904.0 L1235.7,918.0 L1237.7,932.0 L1239.6,946.1 L1241.6,960.3 L1243.6,974.6 L1245.6,988.8 L1247.5,1002.9 L1249.5,1017.0 L1251.5,1031.0 L1253.4,1044.9 L1255.4,1058.6 L1257.4,1072.1 L1259.4,1085.4 L1261.3,1098.2 L1263.3,1110.6 L1265.3,1122.8 L1267.2,1134.7 L1269.2,1146.4 L1271.2,1157.8 L1273.2,1168.9 L1275.1,1179.2 L1277.1,1187.3 L1279.1,1193.5 L1281.0,1198.4 L1283.0,1202.4 L1285.0,1205.8 L1287.0,1208.7 L1288.9,1211.3 L1290.9,1213.4 L1292.9,1214.8 L1294.8,1215.5 L1296.8,1215.2 L1298.8,1214.2 L1300.7,1212.5 L1302.7,1210.0 L1304.7,1206.2 L1306.7,1201.6 L1308.6,1196.8 L1310.6,1191.6 L1312.6,1185.9 L1314.5,1179.9 L1316.5,1173.5 L1318.5,1166.7 L1320.5,1159.3 L1322.4,1151.3 L1324.4,1142.6 L1326.4,1133.2 L1328.3,1123.4 L1330.3,1113.4 L1332.3,1103.6 L1334.3,1094.3 L1336.2,1085.6 L1338.2,1077.7 L1340.2,1070.4 L1342.1,1063.8 L1344.1,1057.6 L1346.1,1051.7 L1348.1,1046.2 L1350.0,1040.8 L1352.0,1035.7 L1354.0,1030.7 L1355.9,1025.9 L1357.9,1021.2 L1359.9,1016.6 L1361.9,1012.1 L1363.8,1007.7 L1365.8,1003.3 L1367.8,999.0 L1369.7,994.7 L1371.7,990.5 L1373.7,986.5 L1375.7,982.6 L1377.6,978.9 L1379.6,975.4 L1381.6,972.1 L1383.5,969.0 L1385.5,966.1 L1387.5,963.4 L1389.5,960.9 L1391.4,958.5 L1393.4,956.4 L1395.4,954.4 L1397.3,952.5 L1399.3,950.8 L1401.3,949.2 L1403.3,947.7 L1405.2,946.3 L1407.2,944.9 L1409.2,943.6 L1411.1,942.3 L1413.1,941.1 L1415.1,939.9 L1417.1,938.7 L1419.0,937.5 L1421.0,936.4 L1423.0,935.3 L1424.9,934.2 L1426.9,933.1 L1428.9,932.1 L1430.8,931.1 L1432.8,930.1 L1434.8,929.2 L1436.8,928.3 L1438.7,927.5 L1440.7,926.7 L1442.7,925.9 L1444.6,925.3 L1446.6,924.6 L1448.6,924.0 L1450.6,923.4 L1452.5,922.9 L1454.5,922.4 L1456.5,922.0 L1458.4,921.5 L1460.4,921.1 L1462.4,920.7 L1464.4,920.3 L1466.3,919.9 L1468.3,919.6 L1470.3,919.2 L1472.2,918.9 L1474.2,918.5 L1476.2,918.1 L1478.2,917.8 L1480.1,917.4 L1482.1,917.0 L1484.1,916.6 L1486.0,916.2 L1488.0,915.8 L1490.0,915.4 L1492.0,915.0 L1493.9,914.6 L1495.9,914.2 L1497.9,913.7 L1499.8,913.3 L1501.8,912.9 L1503.8,912.5 L1505.8,912.1 L1507.7,911.7 L1509.7,911.3 L1511.7,911.0 L1513.6,910.6 L1515.6,910.2 L1517.6,909.8 L1519.6,909.5 L1521.5,909.1 L1523.5,908.8 L1525.5,908.4 L1527.4,908.1 L1529.4,907.8 L1531.4,907.5 L1533.4,907.2 L1535.3,906.9 L1537.3,906.7 L1539.3,906.4 L1541.2,906.2 L1543.2,905.9 L1545.2,905.7 L1547.2,905.5 L1549.1,905.2 L1551.1,905.0 L1553.1,904.8 L1555.0,904.6 L1557.0,904.5 L1559.0,904.3 L1560.9,904.1 L1562.9,904.0 L1564.9,903.8 L1566.9,903.7 L1568.8,903.5 L1570.8,903.4 L1572.8,903.3 L1574.7,903.2 L1576.7,903.1 L1578.7,903.0 L1580.7,902.9 L1582.6,902.8 L1584.6,902.8 L1586.6,902.7 L1588.5,902.6 L1590.5,902.6 L1592.5,902.5 L1594.5,902.5 L1596.4,902.5 L1598.4,902.4 L1600.4,902.4 L1602.3,902.4 L1604.3,902.4 L1606.3,902.4 L1608.3,902.4 L1610.2,902.4 L1612.2,902.4 L1614.2,902.4 L1616.1,902.5 L1618.1,902.5 L1620.1,902.5 L1622.1,902.6 L1624.0,902.6 L1626.0,902.7 L1628.0,902.7 L1629.9,902.8 L1631.9,902.8 L1633.9,902.9 L1635.9,903.0 L1637.8,903.1 L1639.8,903.1 L1641.8,903.2 L1643.7,903.3 L1645.7,903.4 L1647.7,903.5 L1649.7,903.6 L1651.6,903.7 L1653.6,903.8 L1655.6,903.9 L1657.5,904.1 L1659.5,904.2 L1661.5,904.3 L1663.5,904.4 L1665.4,904.6 L1667.4,904.7 L1669.4,904.8 L1671.3,905.0 L1673.3,905.1 L1675.3,905.2 L1677.3,905.4 L1679.2,905.5 L1681.2,905.7 L1683.2,905.8 L1685.1,905.9 L1687.1,906.1 L1689.1,906.2 L1691.0,906.4 L1693.0,906.5 L1695.0,906.6 L1697.0,906.7 L1698.9,906.9 L1700.9,907.0 L1702.9,907.1 L1704.8,907.2 L1706.8,907.3 L1708.8,907.4 L1710.8,907.5 L1712.7,907.6 L1714.7,907.7 L1716.7,907.7 L1718.6,907.8 L1720.6,907.9 L1722.6,907.9 L1724.6,908.0 L1726.5,908.0 L1728.5,908.0 L1730.5,908.0 L1732.4,908.0 L1734.4,908.0 L1736.4,908.0 L1738.4,908.0 L1740.3,907.9 L1742.3,907.9 L1744.3,907.8 L1746.2,907.7 L1748.2,907.6 L1750.2,907.5 L1752.2,907.4 L1754.1,907.2 L1756.1,907.1 L1758.1,906.9 L1760.0,906.7 L1762.0,906.5 L1764.0,906.3 L1766.0,906.0 L1767.9,905.8 L1769.9,905.5 L1771.9,905.3 L1773.8,905.0 L1775.8,904.7 L1777.8,904.4 L1779.8,904.1 L1781.7,903.8 L1783.7,903.4 L1785.7,903.1 L1787.6,902.8 L1789.6,902.4 L1791.6,902.1 L1793.6,901.7 L1795.5,901.4 L1797.5,901.0 L1799.5,900.7 L1801.4,900.4 L1803.4,900.0 L1805.4,899.7 L1807.4,899.4 L1809.3,899.0 L1811.3,898.7 L1813.3,898.4 L1815.2,898.1 L1817.2,897.8 L1819.2,897.5 L1821.1,897.2 L1823.1,897.0 L1825.1,896.7 L1827.1,896.5 L1829.0,896.2 L1831.0,896.0 L1833.0,895.8 L1834.9,895.6 L1836.9,895.4 L1838.9,895.3 L1840.9,895.1 L1842.8,894.9 L1844.8,894.8 L1846.8,894.6 L1848.7,894.5 L1850.7,894.3 L1852.7,894.2 L1854.7,894.1 L1856.6,894.0 L1858.6,893.9 L1860.6,893.7 L1862.5,893.6 L1864.5,893.5 L1866.5,893.4 L1868.5,893.3 L1870.4,893.2 L1872.4,893.1 L1874.4,893.0 L1876.3,892.9 L1878.3,892.9 L1880.3,892.8 L1882.3,892.7 L1884.2,892.6 L1886.2,892.5" stroke="#008000" stroke-width="6.15"/>
<path d="M311.2,889.9 L313.2,890.0 L315.1,890.0 L317.1,890.1 L319.1,890.2 L321.1,890.3 L323.0,890.4 L325.0,890.4 L327.0,890.5 L328.9,890.6 L330.9,890.7 L332.9,890.7 L334.9,890.8 L336.8,890.8 L338.8,890.9 L340.8,891.0 L342.7,891.0 L344.7,891.1 L346.7,891.1 L348.7,891.2 L350.6,891.2 L352.6,891.3 L354.6,891.3 L356.5,891.3 L358.5,891.4 L360.5,891.4 L362.5,891.5 L364.4,891.5 L366.4,891.6 L368.4,891.6 L370.3,891.7 L372.3,891.7 L374.3,891.7 L376.3,891.8 L378.2,891.8 L380.2,891.9 L382.2,891.9 L384.1,892.0 L386.1,892.0 L388.1,892.1 L390.0,892.1 L392.0,892.2 L394.0,892.2 L396.0,892.3 L397.9,892.3 L399.9,892.4 L401.9,892.4 L403.8,892.5 L405.8,892.5 L407.8,892.6 L409.8,892.7 L411.7,892.7 L413.7,892.8 L415.7,892.9 L417.6,893.0 L419.6,893.0 L421.6,893.1 L423.6,893.2 L425.5,893.3 L427.5,893.4 L429.5,893.5 L431.4,893.6 L433.4,893.7 L435.4,893.8 L437.4,893.9 L439.3,894.0 L441.3,894.1 L443.3,894.3 L445.2,894.4 L447.2,894.5 L449.2,894.7 L451.2,894.8 L453.1,895.0 L455.1,895.1 L457.1,895.3 L459.0,895.4 L461.0,895.6 L463.0,895.8 L465.0,896.0 L466.9,896.1 L468.9,896.3 L470.9,896.5 L472.8,896.7 L474.8,896.9 L476.8,897.1 L478.8,897.4 L480.7,897.6 L482.7,897.8 L484.7,898.0 L486.6,898.2 L488.6,898.4 L490.6,898.6 L492.6,898.9 L494.5,899.1 L496.5,899.3 L498.5,899.5 L500.4,899.7 L502.4,899.9 L504.4,900.1 L506.4,900.3 L508.3,900.5 L510.3,900.7 L512.3,900.9 L514.2,901.0 L516.2,901.2 L518.2,901.4 L520.1,901.5 L522.1,901.7 L524.1,901.8 L526.1,902.0 L528.0,902.1 L530.0,902.2 L532.0,902.3 L533.9,902.4 L535.9,902.5 L537.9,902.5 L539.9,902.6 L541.8,902.6 L543.8,902.7 L545.8,902.7 L547.7,902.7 L549.7,902.7 L551.7,902.6 L553.7,902.6 L555.6,902.5 L557.6,902.5 L559.6,902.4 L561.5,902.3 L563.5,902.2 L565.5,902.1 L567.5,902.0 L569.4,901.8 L571.4,901.7 L573.4,901.5 L575.3,901.4 L577.3,901.2 L579.3,901.0 L581.3,900.8 L583.2,900.6 L585.2,900.4 L587.2,900.3 L589.1,900.1 L591.1,899.8 L593.1,899.6 L595.1,899.4 L597.0,899.2 L599.0,899.0 L601.0,898.8 L602.9,898.6 L604.9,898.4 L606.9,898.2 L608.9,898.0 L610.8,897.8 L612.8,897.6 L614.8,897.4 L616.7,897.2 L618.7,897.0 L620.7,896.9 L622.7,896.7 L624.6,896.5 L626.6,896.4 L628.6,896.2 L630.5,896.1 L632.5,896.0 L634.5,895.9 L636.5,895.8 L638.4,895.7 L640.4,895.6 L642.4,895.5 L644.3,895.5 L646.3,895.5 L648.3,895.4 L650.2,895.4 L652.2,895.4 L654.2,895.5 L656.2,895.5 L658.1,895.5 L660.1,895.6 L662.1,895.7 L664.0,895.8 L666.0,895.9 L668.0,896.0 L670.0,896.1 L671.9,896.3 L673.9,896.4 L675.9,896.6 L677.8,896.8 L679.8,896.9 L681.8,897.1 L683.8,897.4 L685.7,897.6 L687.7,897.8 L689.7,898.1 L691.6,898.3 L693.6,898.6 L695.6,898.9 L697.6,899.2 L699.5,899.5 L701.5,899.8 L703.5,900.1 L705.4,900.5 L707.4,900.8 L709.4,901.2 L711.4,901.5 L713.3,901.9 L715.3,902.3 L717.3,902.7 L719.2,903.1 L721.2,903.6 L723.2,904.0 L725.2,904.5 L727.1,905.0 L729.1,905.5 L731.1,906.1 L733.0,906.6 L735.0,907.2 L737.0,907.9 L739.0,908.5 L740.9,909.2 L742.9,910.0 L744.9,910.7 L746.8,911.5 L748.8,912.4 L750.8,913.3 L752.8,914.2 L754.7,915.2 L756.7,916.2 L758.7,917.4 L760.6,918.5 L762.6,919.8 L764.6,921.1 L766.6,922.5 L768.5,924.0 L770.5,925.6 L772.5,927.3 L774.4,929.1 L776.4,930.9 L778.4,932.8 L780.3,934.8 L782.3,936.9 L784.3,939.1 L786.3,941.4 L788.2,943.7 L790.2,946.1 L792.2,948.6 L794.1,951.2 L796.1,953.9 L798.1,956.7 L800.1,959.6 L802.0,962.6 L804.0,965.7 L806.0,968.9 L807.9,972.2 L809.9,975.7 L811.9,979.3 L813.9,983.0 L815.8,986.9 L817.8,990.9 L819.8,995.0 L821.7,999.3 L823.7,1003.8 L825.7,1008.4 L827.7,1013.2 L829.6,1018.2 L831.6,1023.3 L833.6,1028.7 L835.5,1034.3 L837.5,1040.1 L839.5,1046.2 L841.5,1052.6 L843.4,1059.2 L845.4,1066.2 L847.4,1073.4 L849.3,1081.0 L851.3,1089.0 L853.3,1097.3 L855.3,1106.0 L857.2,1115.0 L859.2,1124.3 L861.2,1133.9 L863.1,1143.7 L865.1,1153.6 L867.1,1163.6 L869.1,1173.5 L871.0,1183.4 L873.0,1193.0 L875.0,1202.4 L876.9,1211.5 L878.9,1220.2 L880.9,1228.6 L882.9,1236.7 L884.8,1244.4 L886.8,1251.8 L888.8,1258.9 L890.7,1265.5 L892.7,1270.7 L894.7,1274.3 L896.7,1276.9 L898.6,1278.8 L900.6,1280.2 L902.6,1281.0 L904.5,1280.9 L906.5,1279.9 L908.5,1277.7 L910.4,1273.5 L912.4,1267.0 L914.4,1259.3 L916.4,1250.6 L918.3,1241.2 L920.3,1231.5 L922.3,1221.5 L924.2,1211.1 L926.2,1200.4 L928.2,1189.4 L930.2,1177.9 L932.1,1166.1 L934.1,1153.8 L936.1,1141.1 L938.0,1128.0 L940.0,1114.4 L942.0,1100.3 L944.0,1085.8 L945.9,1070.9 L947.9,1055.6 L949.9,1040.0 L951.8,1024.0 L953.8,1007.8 L955.8,991.4 L957.8,975.0 L959.7,958.6 L961.7,942.3 L963.7,926.1 L965.6,910.3 L967.6,894.7 L969.6,879.6 L971.6,864.8 L973.5,850.5 L975.5,836.6 L977.5,823.1 L979.4,810.1 L981.4,797.5 L983.4,785.2 L985.4,773.3 L987.3,761.7 L989.3,750.4 L991.3,739.4 L993.2,728.7 L995.2,718.2 L997.2,708.0 L999.2,698.0 L1001.1,688.2 L1003.1,678.6 L1005.1,669.2 L1007.0,660.0 L1009.0,651.0 L1011.0,642.1 L1013.0,633.5 L1014.9,624.9 L1016.9,616.6 L1018.9,608.3 L1020.8,600.2 L1022.8,592.3 L1024.8,584.4 L1026.8,576.7 L1028.7,569.2 L1030.7,561.7 L1032.7,554.4 L1034.6,547.1 L1036.6,540.0 L1038.6,533.0 L1040.5,526.3 L1042.5,519.9 L1044.5,513.9 L1046.5,508.2 L1048.4,502.9 L1050.4,498.0 L1052.4,493.3 L1054.3,489.0 L1056.3,484.8 L1058.3,481.0 L1060.3,477.3 L1062.2,473.9 L1064.2,470.7 L1066.2,467.8 L1068.1,465.2 L1070.1,462.8 L1072.1,460.6 L1074.1,458.7 L1076.0,457.0 L1078.0,455.5 L1080.0,454.2 L1081.9,453.1 L1083.9,452.1 L1085.9,451.4 L1087.9,450.8 L1089.8,450.3 L1091.8,449.9 L1093.8,449.7 L1095.7,449.6 L1097.7,449.6 L1099.7,449.7 L1101.7,449.9 L1103.6,450.3 L1105.6,450.8 L1107.6,451.4 L1109.5,452.2 L1111.5,453.1 L1113.5,454.3 L1115.5,455.6 L1117.4,457.2 L1119.4,459.0 L1121.4,460.9 L1123.3,463.2 L1125.3,465.6 L1127.3,468.3 L1129.3,471.3 L1131.2,474.4 L1133.2,477.8 L1135.2,481.4 L1137.1,485.1 L1139.1,489.0 L1141.1,493.1 L1143.1,497.4 L1145.0,501.9 L1147.0,506.7 L1149.0,511.7 L1150.9,517.1 L1152.9,522.7 L1154.9,528.7 L1156.9,534.9 L1158.8,541.4 L1160.8,548.1 L1162.8,554.9 L1164.7,562.0 L1166.7,569.3 L1168.7,576.7 L1170.6,584.4 L1172.6,592.2 L1174.6,600.2 L1176.6,608.3 L1178.5,616.6 L1180.5,625.0 L1182.5,633.7 L1184.4,642.5 L1186.4,651.5 L1188.4,660.7 L1190.4,670.0 L1192.3,679.6 L1194.3,689.4 L1196.3,699.4 L1198.2,709.6 L1200.2,720.0 L1202.2,730.7 L1204.2,741.6 L1206.1,752.7 L1208.1,764.1 L1210.1,775.7 L1212.0,787.6 L1214.0,799.7 L1216.0,812.1 L1218.0,824.7 L1219.9,837.5 L1221.9,850.5 L1223.9,863.8 L1225.8,877.2 L1227.8,890.8 L1229.8,904.6 L1231.8,918.5 L1233.7,932.6 L1235.7,946.7 L1237.7,960.9 L1239.6,975.1 L1241.6,989.3 L1243.6,1003.4 L1245.6,1017.5 L1247.5,1031.5 L1249.5,1045.4 L1251.5,1059.1 L1253.4,1072.7 L1255.4,1086.0 L1257.4,1099.1 L1259.4,1111.9 L1261.3,1124.5 L1263.3,1136.8 L1265.3,1148.9 L1267.2,1160.7 L1269.2,1172.2 L1271.2,1183.2 L1273.2,1192.3 L1275.1,1199.2 L1277.1,1204.6 L1279.1,1209.0 L1281.0,1212.7 L1283.0,1215.8 L1285.0,1218.5 L1287.0,1220.9 L1288.9,1222.7 L1290.9,1223.6 L1292.9,1223.4 L1294.8,1222.3 L1296.8,1220.3 L1298.8,1217.2 L1300.7,1212.5 L1302.7,1207.3 L1304.7,1201.8 L1306.7,1196.1 L1308.6,1190.0 L1310.6,1183.7 L1312.6,1176.9 L1314.5,1169.6 L1316.5,1161.7 L1318.5,1153.1 L1320.5,1143.8 L1322.4,1133.9 L1324.4,1123.7 L1326.4,1113.5 L1328.3,1103.7 L1330.3,1094.5 L1332.3,1086.0 L1334.3,1078.2 L1336.2,1071.1 L1338.2,1064.6 L1340.2,1058.4 L1342.1,1052.6 L1344.1,1047.0 L1346.1,1041.7 L1348.1,1036.5 L1350.0,1031.5 L1352.0,1026.6 L1354.0,1021.9 L1355.9,1017.2 L1357.9,1012.6 L1359.9,1008.1 L1361.9,1003.6 L1363.8,999.2 L1365.8,994.9 L1367.8,990.7 L1369.7,986.6 L1371.7,982.7 L1373.7,979.0 L1375.7,975.5 L1377.6,972.3 L1379.6,969.2 L1381.6,966.3 L1383.5,963.7 L1385.5,961.2 L1387.5,958.9 L1389.5,956.8 L1391.4,954.8 L1393.4,953.0 L1395.4,951.2 L1397.3,949.6 L1399.3,948.0 L1401.3,946.5 L1403.3,945.1 L1405.2,943.7 L1407.2,942.3 L1409.2,941.0 L1411.1,939.7 L1413.1,938.4 L1415.1,937.2 L1417.1,936.0 L1419.0,934.9 L1421.0,933.7 L1423.0,932.7 L1424.9,931.6 L1426.9,930.6 L1428.9,929.7 L1430.8,928.8 L1432.8,927.9 L1434.8,927.1 L1436.8,926.3 L1438.7,925.6 L1440.7,924.9 L1442.7,924.2 L1444.6,923.6 L1446.6,923.1 L1448.6,922.6 L1450.6,922.1 L1452.5,921.6 L1454.5,921.2 L1456.5,920.7 L1458.4,920.3 L1460.4,920.0 L1462.4,919.6 L1464.4,919.2 L1466.3,918.8 L1468.3,918.5 L1470.3,918.1 L1472.2,917.8 L1474.2,917.4 L1476.2,917.0 L1478.2,916.6 L1480.1,916.2 L1482.1,915.8 L1484.1,915.4 L1486.0,915.0 L1488.0,914.6 L1490.0,914.2 L1492.0,913.8 L1493.9,913.4 L1495.9,912.9 L1497.9,912.5 L1499.8,912.1 L1501.8,911.7 L1503.8,911.3 L1505.8,910.9 L1507.7,910.5 L1509.7,910.1 L1511.7,909.7 L1513.6,909.3 L1515.6,908.9 L1517.6,908.6 L1519.6,908.2 L1521.5,907.9 L1523.5,907.5 L1525.5,907.2 L1527.4,906.9 L1529.4,906.6 L1531.4,906.3 L1533.4,906.0 L1535.3,905.7 L1537.3,905.5 L1539.3,905.2 L1541.2,905.0 L1543.2,904.7 L1545.2,904.5 L1547.2,904.3 L1549.1,904.1 L1551.1,903.9 L1553.1,903.7 L1555.0,903.5 L1557.0,903.3 L1559.0,903.1 L1560.9,903.0 L1562.9,902.8 L1564.9,902.7 L1566.9,902.6 L1568.8,902.4 L1570.8,902.3 L1572.8,902.2 L1574.7,902.1 L1576.7,902.0 L1578.7,901.9 L1580.7,901.8 L1582.6,901.8 L1584.6,901.7 L1586.6,901.6 L1588.5,901.6 L1590.5,901.5 L1592.5,901.5 L1594.5,901.5 L1596.4,901.4 L1598.4,901.4 L1600.4,901.4 L1602.3,901.4 L1604.3,901.4 L1606.3,901.4 L1608.3,901.4 L1610.2,901.4 L1612.2,901.4 L1614.2,901.5 L1616.1,901.5 L1618.1,901.5 L1620.1,901.6 L1622.1,901.6 L1624.0,901.7 L1626.0,901.7 L1628.0,901.8 L1629.9,901.9 L1631.9,901.9 L1633.9,902.0 L1635.9,902.1 L1637.8,902.2 L1639.8,902.3 L1641.8,902.4 L1643.7,902.5 L1645.7,902.6 L1647.7,902.7 L1649.7,902.8 L1651.6,902.9 L1653.6,903.0 L1655.6,903.1 L1657.5,903.2 L1659.5,903.4 L1661.5,903.5 L1663.5,903.6 L1665.4,903.8 L1667.4,903.9 L1669.4,904.0 L1671.3,904.2 L1673.3,904.3 L1675.3,904.5 L1677.3,904.6 L1679.2,904.7 L1681.2,904.9 L1683.2,905.0 L1685.1,905.2 L1687.1,905.3 L1689.1,905.4 L1691.0,905.6 L1693.0,905.7 L1695.0,905.8 L1697.0,905.9 L1698.9,906.1 L1700.9,906.2 L1702.9,906.3 L1704.8,906.4 L1706.8,906.5 L1708.8,906.6 L1710.8,906.7 L1712.7,906.7 L1714.7,906.8 L1716.7,906.9 L1718.6,906.9 L1720.6,907.0 L1722.6,907.0 L1724.6,907.0 L1726.5,907.0 L1728.5,907.1 L1730.5,907.0 L1732.4,907.0 L1734.4,907.0 L1736.4,907.0 L1738.4,906.9 L1740.3,906.8 L1742.3,906.8 L1744.3,906.7 L1746.2,906.6 L1748.2,906.4 L1750.2,906.3 L1752.2,906.1 L1754.1,906.0 L1756.1,905.8 L1758.1,905.6 L1760.0,905.4 L1762.0,905.1 L1764.0,904.9 L1766.0,904.6 L1767.9,904.3 L1769.9,904.1 L1771.9,903.8 L1773.8,903.5 L1775.8,903.1 L1777.8,902.8 L1779.8,902.5 L1781.7,902.1 L1783.7,901.8 L1785.7,901.5 L1787.6,901.1 L1789.6,900.8 L1791.6,900.4 L1793.6,900.1 L1795.5,899.7 L1797.5,899.3 L1799.5,899.0 L1801.4,898.6 L1803.4,898.3 L1805.4,898.0 L1807.4,897.6 L1809.3,897.3 L1811.3,897.0 L1813.3,896.7 L1815.2,896.4 L1817.2,896.1 L1819.2,895.8 L1821.1,895.6 L1823.1,895.3 L1825.1,895.1 L1827.1,894.9 L1829.0,894.6 L1831.0,894.4 L1833.0,894.2 L1834.9,894.1 L1836.9,893.9 L1838.9,893.7 L1840.9,893.5 L1842.8,893.4 L1844.8,893.2 L1846.8,893.1 L1848.7,893.0 L1850.7,892.8 L1852.7,892.7 L1854.7,892.6 L1856.6,892.5 L1858.6,892.4 L1860.6,892.3 L1862.5,892.2 L1864.5,892.1 L1866.5,892.0 L1868.5,891.9 L1870.4,891.8 L1872.4,891.7 L1874.4,891.6 L1876.3,891.5 L1878.3,891.4 L1880.3,891.3 L1882.3,891.2 L1884.2,891.1 L1886.2,891.0" stroke="#0000ff" stroke-width="6.15"/>
</g>
<g font-family="'Liberation Sans', sans-serif" font-size="72" fill="#000">
<text transform="translate(282,1324.3) scale(1,1.03)" text-anchor="end"><tspan stroke="#000" stroke-width="1">−</tspan>200</text>
<text transform="translate(284,1130.3) scale(1,1.03)" text-anchor="end"><tspan stroke="#000" stroke-width="1">−</tspan>100</text>
<text transform="translate(285.5,919.7) scale(1,1.03)" text-anchor="end">0</text>
<text transform="translate(283,709.1) scale(1,1.03)" text-anchor="end">100</text>
<text transform="translate(282,496.4) scale(1,1.03)" text-anchor="end">200</text>
<text transform="translate(283,287.6) scale(1,1.03)" text-anchor="end">300</text>
<text transform="translate(282,75.4) scale(1,1.03)" text-anchor="end">400</text>
<text transform="translate(311.2,1401.8) scale(1,1.03)" text-anchor="middle">45</text>
<text transform="translate(669.2,1401.8) scale(1,1.03)" text-anchor="middle">50</text>
<text transform="translate(1027.1,1401.8) scale(1,1.03)" text-anchor="middle">55</text>
<text transform="translate(1385.1,1401.8) scale(1,1.03)" text-anchor="middle">60</text>
<text transform="translate(1743.0,1401.8) scale(1,1.03)" text-anchor="middle">65</text>
</g>
<g font-family="'Liberation Sans', sans-serif" font-size="84.2" fill="#000">
<text transform="translate(1099.5,1531) scale(1,1.04)" text-anchor="middle">Injected current (mA)</text>
<text transform="translate(86.6,686) rotate(-90) scale(1,1.04)" text-anchor="middle">2<tspan font-style="italic">f</tspan> signal (μV)</text>
</g>
<g font-family="'Liberation Sans', sans-serif" font-size="66.1" fill="#000">
<line x1="346.8" y1="114.85" x2="494.3" y2="114.85" stroke="#ff8000" stroke-width="6" stroke-linecap="round"/>
<text transform="translate(511,136.7) scale(1,1.01)">2<tspan font-style="italic">f</tspan> singal of WA-LITES sensor</text>
<line x1="346.8" y1="195.70" x2="494.3" y2="195.70" stroke="#ff0000" stroke-width="6" stroke-linecap="round"/>
<text transform="translate(511,217.5) scale(1,1.01)">2<tspan font-style="italic">f</tspan> singal of TA-LITES sensor</text>
<line x1="346.8" y1="276.55" x2="494.3" y2="276.55" stroke="#008000" stroke-width="6" stroke-linecap="round"/>
<text transform="translate(511,298.3) scale(1,1.01)">2<tspan font-style="italic">f</tspan> singal of VA-LITES sensor</text>
<line x1="346.8" y1="357.40" x2="494.3" y2="357.40" stroke="#0000ff" stroke-width="6" stroke-linecap="round"/>
<text transform="translate(511,379.2) scale(1,1.01)">2<tspan font-style="italic">f</tspan> singal of CA-LITES sensor</text>
</g>
</svg>
</body></html>
